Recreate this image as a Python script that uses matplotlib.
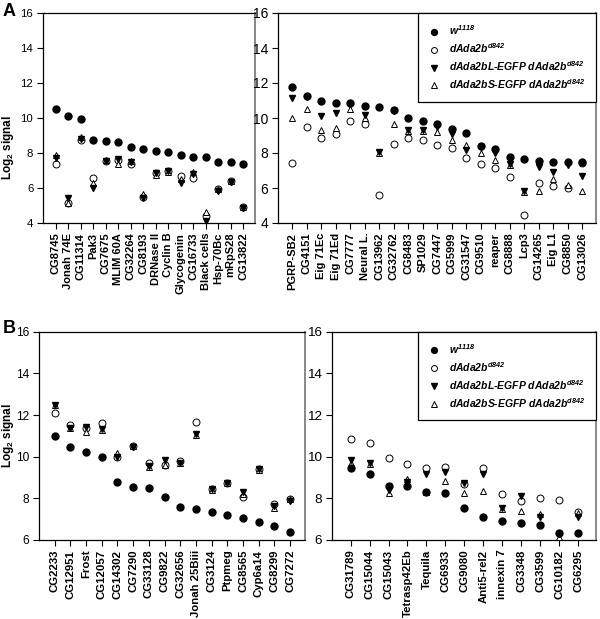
import matplotlib
matplotlib.use('Agg')
import matplotlib.pyplot as plt
from matplotlib.font_manager import FontProperties

plt.rcParams['font.family'] = ['Liberation Sans', 'DejaVu Sans']
plt.rcParams['mathtext.fontset'] = 'custom'
plt.rcParams['mathtext.rm'] = 'Liberation Sans:bold:italic'
plt.rcParams['mathtext.it'] = 'Liberation Sans:bold:italic'
plt.rcParams['mathtext.bf'] = 'Liberation Sans:bold'

# panel A, left
a1_genes = ['CG8745', 'Jonah 74E', 'CG11314', 'Pak3', 'CG7675', 'MLIM 60A', 'CG32264', 'CG8193',
            'DRNase II', 'Cyclin B', 'Glycogenin', 'CG16733', 'Black cells', 'Hsp-70Bc', 'mRpS28', 'CG13822']
a1_w = [10.51, 10.13, 9.94, 8.74, 8.69, 8.65, 8.36, 8.23, 8.11, 8.08, 7.87, 7.79, 7.75, 7.50, 7.47, 7.35]
a1_d = [7.37, 5.13, 8.74, 6.55, 7.56, 7.60, 7.37, 5.47, 6.84, 6.97, 6.69, 6.55, 4.40, 5.92, 6.42, 4.90]
a1_L = [7.70, 5.41, 8.80, 5.98, 7.56, 7.64, 7.50, 5.45, 6.84, 7.00, 6.27, 6.80, 4.13, 5.85, 6.35, 4.88]
a1_S = [7.89, 5.13, 8.93, 6.30, 7.60, 7.37, 7.56, 5.66, 6.75, 6.90, 6.50, 6.93, 4.65, 5.92, 6.42, 4.92]

# panel A, right
a2_genes = ['PGRP-SB2', 'CG4151', 'Eig 71Ec', 'Eig 71Ed', 'CG7777', 'Neural L.', 'CG13962', 'CG32762',
            'CG8483', 'SP1029', 'CG7447', 'CG5999', 'CG31547', 'CG9510', 'reaper', 'CG8888', 'Lcp3',
            'CG14265', 'Eig L1', 'CG8850', 'CG13026']
a2_w = [11.79, 11.26, 10.97, 10.84, 10.88, 10.70, 10.61, 10.46, 9.98, 9.81, 9.66, 9.37, 9.16, 8.42, 8.21,
        7.79, 7.64, 7.56, 7.50, 7.50, 7.49]
a2_d = [7.41, 9.47, 8.84, 9.07, 9.83, 9.64, 5.60, 8.50, 8.84, 8.72, 8.46, 8.30, 7.70, 7.37, 7.16,
        6.65, 4.46, 6.30, 6.11, 5.98, 7.45]
a2_L = [11.12, 11.20, 10.11, 10.27, 10.80, 10.17, 8.05, 10.40, 9.33, 9.33, 9.50, 9.10, 8.17, 8.35, 8.00,
        7.38, 5.85, 7.18, 6.93, 7.30, 6.70]
a2_S = [10.02, 10.51, 9.31, 9.41, 10.50, 10.00, 7.98, 9.64, 9.28, 9.28, 9.22, 8.74, 8.46, 7.98, 7.60,
        7.32, 5.80, 5.83, 6.49, 6.17, 5.83]

# panel B, left
b1_genes = ['CG2233', 'CG12951', 'Frost', 'CG12057', 'CG14302', 'CG7290', 'CG33128', 'CG9822', 'CG32656',
            'Jonah 25Biii', 'CG3124', 'Ptpmeg', 'CG8565', 'Cyp6a14', 'CG8299', 'CG7272']
b1_w = [10.99, 10.45, 10.21, 9.97, 8.80, 8.56, 8.48, 8.05, 7.57, 7.50, 7.34, 7.20, 7.07, 6.85, 6.69, 6.40]
b1_d = [12.11, 11.52, 11.40, 11.60, 9.97, 10.51, 9.71, 9.60, 9.77, 11.65, 8.43, 8.72, 8.05, 9.39, 7.73, 7.95]
b1_L = [12.50, 11.38, 11.44, 11.33, 9.97, 10.48, 9.55, 9.84, 9.71, 11.08, 8.45, 8.72, 8.32, 9.40, 7.65, 7.85]
b1_S = [12.46, 11.36, 11.20, 11.30, 10.19, 10.51, 9.49, 9.60, 9.70, 11.02, 8.41, 8.72, 8.20, 9.38, 7.52, 7.95]

# panel B, right
b2_genes = ['CG31789', 'CG15044', 'CG15043', 'Tetrasp42Eb', 'Tequila', 'CG6933', 'CG9080', 'Anti5-rel2',
            'innexin 7', 'CG3348', 'CG3599', 'CG10182', 'CG6295']
b2_w = [9.47, 9.17, 8.61, 8.60, 8.32, 8.27, 7.52, 7.09, 6.93, 6.80, 6.72, 6.32, 6.32]
b2_d = [10.83, 10.64, 9.95, 9.65, 9.47, 9.49, 8.70, 9.44, 8.21, 7.89, 8.00, 7.92, 7.36]
b2_L = [9.84, 9.68, 8.38, 8.80, 9.17, 9.28, 8.75, 9.17, 7.55, 8.11, 7.10, 6.30, 7.12]
b2_S = [9.68, 9.66, 8.26, 8.91, 8.32, 8.85, 8.26, 8.35, 7.50, 7.41, 7.25, 6.16, 7.30]

labels = ['w$^{1118}$', 'dAda2b$^{d842}$', 'dAda2bL-EGFP dAda2b$^{d842}$', 'dAda2bS-EGFP dAda2b$^{d842}$']

fig = plt.figure(figsize=(6.0, 6.19), dpi=100)


def panel(rect, genes, w, d, L, S, ylim, xfs, yfs, legend=False, ylabel_xy=None):
    ax = fig.add_axes(rect)
    x = list(range(len(genes)))
    ms = 5
    h_d, = ax.plot(x, d, 'o', ms=ms, mfc='white', mec='black', mew=0.7, zorder=2)
    h_S, = ax.plot(x, S, '^', ms=ms - 0.5, mfc='white', mec='black', mew=0.7, zorder=3)
    h_L, = ax.plot(x, L, 'v', ms=ms, mfc='black', mec='black', zorder=4)
    h_w, = ax.plot(x, w, 'o', ms=ms, mfc='black', mec='black', zorder=5)
    ax.set_xlim(-1, len(genes) - 0.05)
    ax.set_ylim(*ylim)
    ax.set_yticks(range(ylim[0], ylim[1] + 1, 2))
    ax.set_xticks(x)
    ax.set_xticklabels(genes, rotation=90, fontsize=xfs, fontweight='bold')
    ax.tick_params(axis='y', labelsize=yfs, direction='out', length=4, width=0.8, pad=3)
    ax.tick_params(axis='x', direction='out', length=4, width=0.8, pad=3)
    for s in ['top', 'left', 'bottom']:
        ax.spines[s].set_linewidth(0.9)
    ax.spines['right'].set_color('#888888')
    ax.spines['right'].set_linewidth(1.4)
    if ylabel_xy is not None:
        ax.set_ylabel('Log$_\\mathbf{2}$ signal', fontsize=8.5, fontweight='bold', va='center')
        ax.yaxis.set_label_coords(*ylabel_xy)
    if legend:
        leg = ax.legend([h_w, h_d, h_L, h_S], labels, loc='upper right', bbox_to_anchor=(1, 1),
                        borderaxespad=0, fancybox=False, edgecolor='black', framealpha=1,
                        prop=FontProperties(family='Liberation Sans', weight='bold', style='italic', size=7.5),
                        handlelength=1.0, handletextpad=1.0, borderpad=1.0, labelspacing=0.4,
                        markerscale=0.85)
        leg.get_frame().set_linewidth(0.9)
    return ax


panel([43 / 600, 1 - 223 / 619, 212 / 600, 210 / 619], a1_genes, a1_w, a1_d, a1_L, a1_S,
      (4, 16), 8, 8.2, ylabel_xy=(-0.165, 0.36))
panel([278 / 600, 1 - 223 / 619, 318 / 600, 210 / 619], a2_genes, a2_w, a2_d, a2_L, a2_S,
      (4, 16), 8, 10, legend=True)
panel([39 / 600, 1 - 540 / 619, 266 / 600, 208.3 / 619], b1_genes, b1_w, b1_d, b1_L, b1_S,
      (6, 16), 8.2, 8.6, ylabel_xy=(-0.117, 0.5))
panel([331.7 / 600, 1 - 540 / 619, 264.3 / 600, 208.3 / 619], b2_genes, b2_w, b2_d, b2_L, b2_S,
      (6, 16), 8.2, 9.7, legend=True)

fig.text(3 / 600, 1 - 3 / 619, 'A', fontsize=13, fontweight='bold', va='top', ha='left')
fig.text(3 / 600, 1 - 320 / 619, 'B', fontsize=13, fontweight='bold', va='top', ha='left')

fig.savefig('out.png', dpi=100)
